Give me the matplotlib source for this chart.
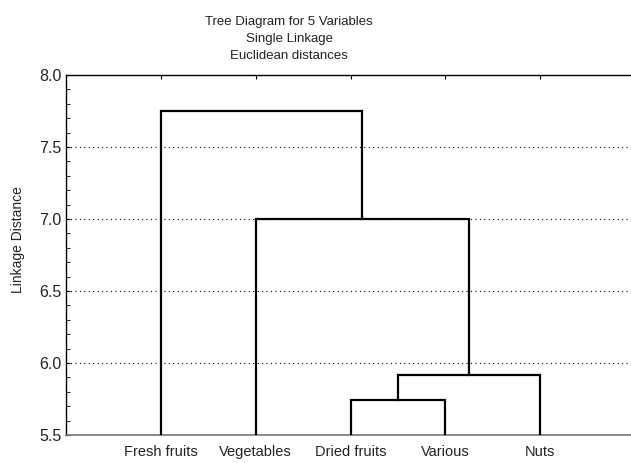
import matplotlib
matplotlib.use("Agg")
import matplotlib.pyplot as plt
from matplotlib.ticker import MultipleLocator

plt.rcParams["font.family"] = ["Liberation Sans", "DejaVu Sans"]

labels = ["Fresh fruits", "Vegetables", "Dried fruits", "Various", "Nuts"]
# merges: (left member, right member, linkage distance); members >= 5 refer to earlier clusters
merges = [
    (2, 3, 5.74),
    (5, 4, 5.915),
    (1, 6, 7.0),
    (0, 7, 7.75),
]
y_ticks = [5.5, 6.0, 6.5, 7.0, 7.5, 8.0]

fig = plt.figure(figsize=(6.31, 4.63), dpi=100)
ax = fig.add_axes([66 / 631, 28 / 463, 569 / 631, 360 / 463])

pos = {i: i + 1 for i in range(len(labels))}
height = {i: y_ticks[0] for i in range(len(labels))}
for k, (a, b, d) in enumerate(merges):
    xa, xb = pos[a], pos[b]
    ax.plot([xa, xa, xb, xb], [height[a], d, d, height[b]],
            color="black", lw=1.6, solid_joinstyle="miter", zorder=3)
    node = len(labels) + k
    pos[node] = (xa + xb) / 2
    height[node] = d

ax.set_xlim(0, 6)
ax.set_ylim(y_ticks[0], y_ticks[-1])
ax.set_xticks(range(1, len(labels) + 1))
ax.set_xticklabels(labels, fontsize=10.5)
ax.set_yticks(y_ticks)
ax.set_yticklabels([f"{v:.1f}" for v in y_ticks], fontsize=11.5)
ax.yaxis.set_minor_locator(MultipleLocator(0.1))

for v in y_ticks[1:-1]:
    ax.axhline(v, color="black", lw=0.8, ls=(0, (1, 3)), zorder=1)

ax.tick_params(axis="x", which="major", top=True, bottom=False, length=3,
               direction="in", pad=7, labelcolor="#222222")
ax.tick_params(axis="y", which="major", direction="in", length=3, pad=3,
               colors="black", labelcolor="#222222")
ax.tick_params(axis="y", which="minor", direction="in", length=3)

ax.spines["right"].set_visible(False)
ax.spines["left"].set_linewidth(1.0)
ax.spines["top"].set_linewidth(1.0)
ax.spines["bottom"].set_color("#777777")
ax.spines["bottom"].set_linestyle((0, (2, 1)))
ax.spines["bottom"].set_linewidth(1.2)

fig.text(18 / 631, 1 - 240 / 463, "Linkage Distance", rotation=90,
         ha="center", va="center", fontsize=10, color="#222222")
title_lines = ["Tree Diagram for 5 Variables", "Single Linkage", "Euclidean distances"]
for i, line in enumerate(title_lines):
    fig.text(289 / 631, 1 - (22 + 17 * i) / 463, line, ha="center",
             va="center", fontsize=9.5, color="#222222")

fig.savefig("out.png", dpi=100)
